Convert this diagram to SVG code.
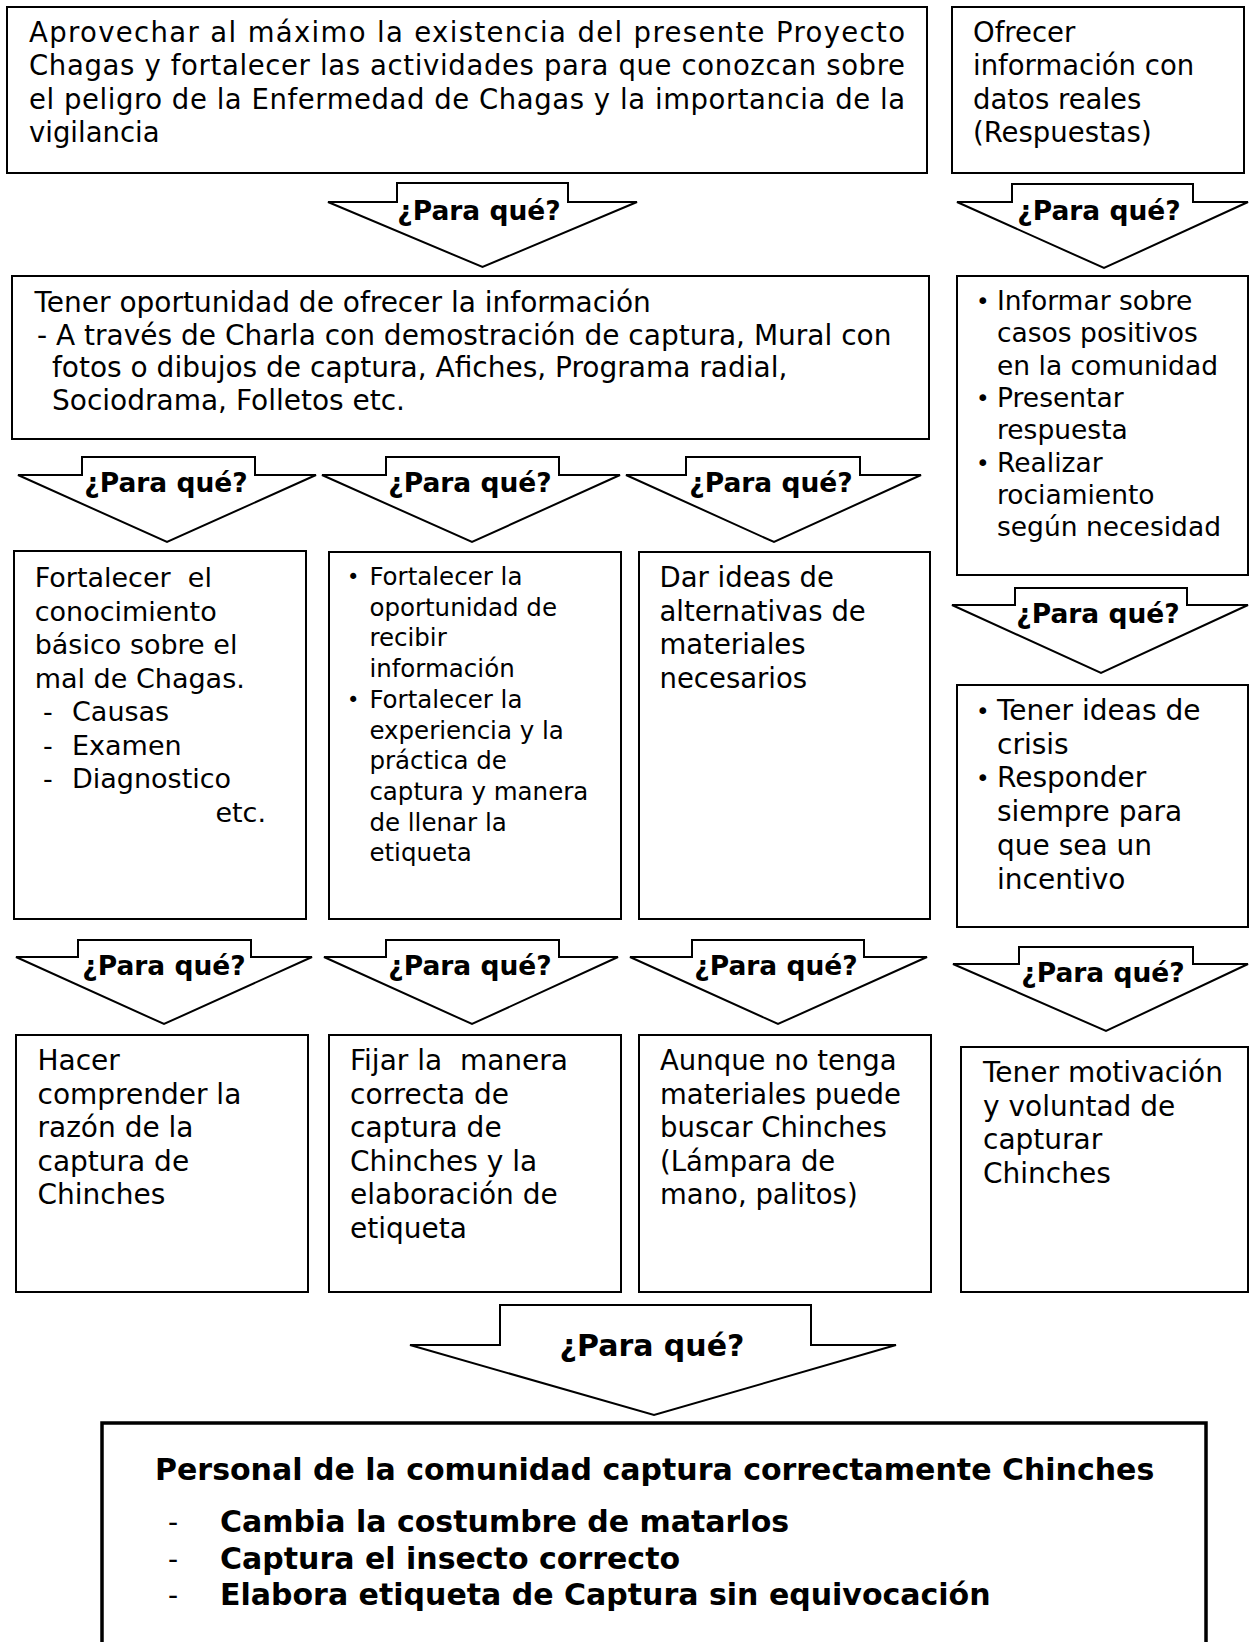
<svg xmlns="http://www.w3.org/2000/svg" width="1249" height="1642" viewBox="0 0 1249 1642">
<style>
.box{fill:#fff;stroke:#000;stroke-width:2}
.fin{fill:#fff;stroke:#000;stroke-width:3.5}
.t{font-family:"DejaVu Sans",sans-serif;font-size:28px;fill:#000}
.bul{font-family:"DejaVu Sans",sans-serif;font-size:23px;fill:#000}
.arr{fill:#fff;stroke:#000;stroke-width:2;stroke-linejoin:miter}
.lbl{font-family:"DejaVu Sans",sans-serif;font-weight:bold;font-size:26.5px;text-anchor:middle;fill:#000}
.big{font-family:"DejaVu Sans",sans-serif;font-weight:bold;font-size:30px;fill:#000}
.dash{font-family:"DejaVu Sans",sans-serif;font-size:28px;fill:#000}
</style>
<rect width="1249" height="1642" fill="#fff"/>

<g id="connectors">
  <g id="arrow-a1"><polygon class="arr" points="397,183 568,183 568,202 637,202 482.5,267 328,202 397,202"/><text class="lbl" x="479" y="220">¿Para qué?</text></g>
  <g id="arrow-b1"><polygon class="arr" points="1012,184 1193,184 1193,202 1248,202 1104,268 957,202 1012,202"/><text class="lbl" x="1099" y="220">¿Para qué?</text></g>

  <g id="arrow-c1"><polygon class="arr" points="82,457 255,457 255,475 316,475 167,542 18,475 82,475"/><text class="lbl" x="166" y="492">¿Para qué?</text></g>
  <g id="arrow-c2"><polygon class="arr" points="386,457 559,457 559,475 620,475 472,542 322,475 386,475"/><text class="lbl" x="470" y="492">¿Para qué?</text></g>
  <g id="arrow-c3"><polygon class="arr" points="686,457 860,457 860,475 921,475 774,542 626,475 686,475"/><text class="lbl" x="771" y="492">¿Para qué?</text></g>
  <g id="arrow-d1"><polygon class="arr" points="1015,588 1187,588 1187,605 1248,605 1101,673 952,605 1015,605"/><text class="lbl" x="1098" y="623">¿Para qué?</text></g>

  <g id="arrow-e1"><polygon class="arr" points="78,940 251,940 251,957 312,957 164,1024 16,957 78,957"/><text class="lbl" x="164" y="975">¿Para qué?</text></g>
  <g id="arrow-f1"><polygon class="arr" points="386,940 559,940 559,957 618,957 472,1024 324,957 386,957"/><text class="lbl" x="470" y="975">¿Para qué?</text></g>
  <g id="arrow-g1"><polygon class="arr" points="692,940 864,940 864,957 927,957 778,1024 630,957 692,957"/><text class="lbl" x="776" y="975">¿Para qué?</text></g>
  <g id="arrow-h1"><polygon class="arr" points="1019,947 1193,947 1193,964 1248,964 1106,1031 953,964 1019,964"/><text class="lbl" x="1103" y="982">¿Para qué?</text></g>

  <g id="arrow-final"><polygon class="arr" points="500,1305 811,1305 811,1345 896,1345 654,1415 410,1345 500,1345"/><text class="big" x="652" y="1356" text-anchor="middle">¿Para qué?</text></g>
</g>

<g id="node-a">
  <rect class="box" x="7" y="7" width="920" height="166"/>
  <text class="t" style="font-size:27.5px" x="29" y="41.5" textLength="876" lengthAdjust="spacing">Aprovechar al máximo la existencia del presente Proyecto</text>
  <text class="t" style="font-size:27.5px" x="29" y="75" textLength="876" lengthAdjust="spacing">Chagas y fortalecer las actividades para que conozcan sobre</text>
  <text class="t" style="font-size:27.5px" x="29" y="108.5" textLength="876" lengthAdjust="spacing">el peligro de la Enfermedad de Chagas y la importancia de la</text>
  <text class="t" style="font-size:27.5px" x="29" y="142">vigilancia</text>
</g>

<g id="node-b">
  <rect class="box" x="952" y="7" width="292" height="166"/>
  <text class="t" style="font-size:27.5px" x="973" y="41.5">Ofrecer</text>
  <text class="t" style="font-size:27.5px" x="973" y="75">información con</text>
  <text class="t" style="font-size:27.5px" x="973" y="108.5">datos reales</text>
  <text class="t" style="font-size:27.5px" x="973" y="142">(Respuestas)</text>
</g>

<g id="node-c">
  <rect class="box" x="12" y="276" width="917" height="163"/>
  <text class="t" x="34.5" y="312">Tener oportunidad de ofrecer la información</text>
  <text class="t" x="37" y="344.5">- A través de Charla con demostración de captura, Mural con</text>
  <text class="t" x="52" y="377">fotos o dibujos de captura, Afiches, Programa radial,</text>
  <text class="t" x="52" y="409.5">Sociodrama, Folletos etc.</text>
</g>

<g id="node-d">
  <rect class="box" x="957" y="276" width="291" height="299"/>
  <g class="t" style="font-size:26.5px">
    <text class="bul" x="976" y="309">•</text><text x="997" y="310">Informar sobre</text>
    <text x="997" y="342.3">casos positivos</text>
    <text x="997" y="374.6">en la comunidad</text>
    <text class="bul" x="976" y="406">•</text><text x="997" y="407">Presentar</text>
    <text x="997" y="439.3">respuesta</text>
    <text class="bul" x="976" y="470.6">•</text><text x="997" y="471.6">Realizar</text>
    <text x="997" y="504">rociamiento</text>
    <text x="997" y="536.3">según necesidad</text>
  </g>
</g>

<g id="node-e">
  <rect class="box" x="14" y="551" width="292" height="368"/>
  <g class="t" style="font-size:27px">
    <text x="34.7" y="587">Fortalecer&#160; el</text>
    <text x="34.7" y="620.5">conocimiento</text>
    <text x="34.7" y="654">básico sobre el</text>
    <text x="34.7" y="687.5">mal de Chagas.</text>
    <text x="43" y="721">-<tspan x="72">Causas</tspan></text>
    <text x="43" y="754.5">-<tspan x="72">Examen</tspan></text>
    <text x="43" y="788">-<tspan x="72">Diagnostico</tspan></text>
    <text x="266" y="821.5" text-anchor="end">etc.</text>
  </g>
</g>

<g id="node-f">
  <rect class="box" x="329" y="552" width="292" height="367"/>
  <g class="t" style="font-size:24.5px">
    <text class="bul" x="347" y="584" style="font-size:21px">•</text><text x="369.4" y="585">Fortalecer la</text>
    <text x="369.4" y="615.7">oportunidad de</text>
    <text x="369.4" y="646.4">recibir</text>
    <text x="369.4" y="677.1">información</text>
    <text class="bul" x="347" y="706.8" style="font-size:21px">•</text><text x="369.4" y="707.8">Fortalecer la</text>
    <text x="369.4" y="738.5">experiencia y la</text>
    <text x="369.4" y="769.2">práctica de</text>
    <text x="369.4" y="799.9">captura y manera</text>
    <text x="369.4" y="830.6">de llenar la</text>
    <text x="369.4" y="861.3">etiqueta</text>
  </g>
</g>

<g id="node-g">
  <rect class="box" x="639" y="552" width="291" height="367"/>
  <g class="t" style="font-size:27.5px">
    <text x="659.5" y="587">Dar ideas de</text>
    <text x="659.5" y="620.5">alternativas de</text>
    <text x="659.5" y="654">materiales</text>
    <text x="659.5" y="687.5">necesarios</text>
  </g>
</g>

<g id="node-h">
  <rect class="box" x="957" y="685" width="291" height="242"/>
  <g class="t">
    <text class="bul" x="976" y="719">•</text><text x="997" y="720">Tener ideas de</text>
    <text x="997" y="753.7">crisis</text>
    <text class="bul" x="976" y="786.4">•</text><text x="997" y="787.4">Responder</text>
    <text x="997" y="821.1">siempre para</text>
    <text x="997" y="854.8">que sea un</text>
    <text x="997" y="888.5">incentivo</text>
  </g>
</g>

<g id="node-i">
  <rect class="box" x="16" y="1035" width="292" height="257"/>
  <g class="t">
    <text x="37.5" y="1070">Hacer</text>
    <text x="37.5" y="1103.6">comprender la</text>
    <text x="37.5" y="1137.2">razón de la</text>
    <text x="37.5" y="1170.8">captura de</text>
    <text x="37.5" y="1204.4">Chinches</text>
  </g>
</g>

<g id="node-j">
  <rect class="box" x="329" y="1035" width="292" height="257"/>
  <g class="t">
    <text x="350" y="1070">Fijar la&#160; manera</text>
    <text x="350" y="1103.6">correcta de</text>
    <text x="350" y="1137.2">captura de</text>
    <text x="350" y="1170.8">Chinches y la</text>
    <text x="350" y="1204.4">elaboración de</text>
    <text x="350" y="1238">etiqueta</text>
  </g>
</g>

<g id="node-k">
  <rect class="box" x="639" y="1035" width="292" height="257"/>
  <g class="t" style="font-size:27.5px">
    <text x="660" y="1070">Aunque no tenga</text>
    <text x="660" y="1103.6">materiales puede</text>
    <text x="660" y="1137.2">buscar Chinches</text>
    <text x="660" y="1170.8">(Lámpara de</text>
    <text x="660" y="1204.4">mano, palitos)</text>
  </g>
</g>

<g id="node-l">
  <rect class="box" x="961" y="1047" width="287" height="245"/>
  <g class="t">
    <text x="983" y="1082">Tener motivación</text>
    <text x="983" y="1115.6">y voluntad de</text>
    <text x="983" y="1149.2">capturar</text>
    <text x="983" y="1182.8">Chinches</text>
  </g>
</g>

<g id="node-final">
  <rect class="fin" x="102" y="1423" width="1104" height="260"/>
  <text class="big" x="155" y="1480">Personal de la comunidad captura correctamente Chinches</text>
  <text class="dash" x="168" y="1532">-</text><text class="big" x="220" y="1532">Cambia la costumbre de matarlos</text>
  <text class="dash" x="168" y="1569">-</text><text class="big" x="220" y="1569">Captura el insecto correcto</text>
  <text class="dash" x="168" y="1605">-</text><text class="big" x="220" y="1605">Elabora etiqueta de Captura sin equivocación</text>
</g>
</svg>
